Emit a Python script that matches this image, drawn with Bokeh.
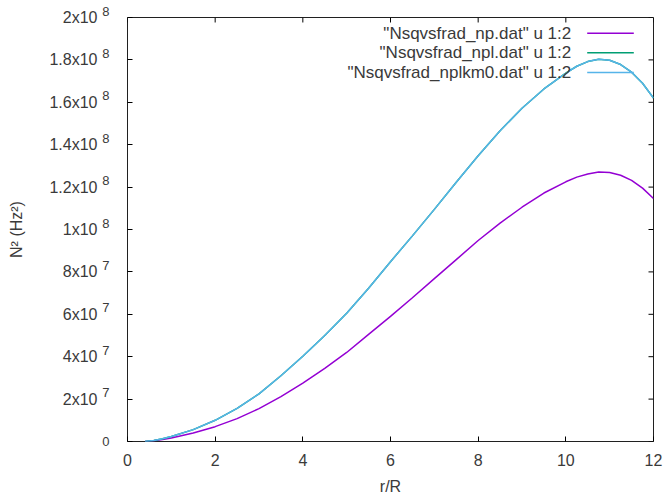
import numpy as np
from bokeh.plotting import figure
from bokeh.models import Label, FixedTicker, LinearAxis, Range1d
from bokeh.embed import file_html
from bokeh.resources import INLINE

# radius in units of R
r = [0.4, 0.6, 0.8, 1.0, 1.5, 2.0, 2.5, 3.0, 3.5, 4.0, 4.5, 5.0, 5.5, 6.0, 6.5,
     7.0, 7.5, 8.0, 8.5, 9.0, 9.5, 10.0, 10.25, 10.5, 10.75, 11.0, 11.25, 11.5,
     11.75, 12.0]

# N^2 in units of 1e6 Hz^2
n2_np = [0.0, 0.35, 0.9, 1.7, 4.0, 7.0, 10.8, 15.5, 21.2, 27.5, 34.5, 42.0, 50.5,
         59.0, 67.8, 76.8, 85.8, 94.8, 103.0, 110.5, 117.2, 122.5, 124.7, 126.2,
         127.1, 126.9, 125.6, 123.2, 119.5, 114.6]
n2_npl = [0.0, 0.5, 1.3, 2.4, 5.6, 10.0, 15.6, 22.5, 31.0, 40.2, 50.0, 60.5, 72.3,
          84.8, 97.0, 109.5, 122.3, 134.8, 146.6, 157.2, 166.3, 173.8, 177.0,
          179.2, 180.3, 179.8, 177.8, 174.2, 169.0, 162.0]
n2_nplkm0 = [0.0, 0.5, 1.3, 2.4, 5.6, 10.0, 15.6, 22.5, 31.0, 40.2, 50.0, 60.5, 72.3,
             84.8, 97.0, 109.5, 122.3, 134.8, 146.6, 157.2, 166.3, 173.8, 177.0,
             179.2, 180.3, 179.8, 177.8, 174.2, 169.0, 162.0]

series_names = ['"Nsqvsfrad_np.dat" u 1:2',
                '"Nsqvsfrad_npl.dat" u 1:2',
                '"Nsqvsfrad_nplkm0.dat" u 1:2']
series_colors = ["#9400d3", "#009e73", "#56b4e9"]

x_ticks = [0, 2, 4, 6, 8, 10, 12]
y_ticks = [0, 2e7, 4e7, 6e7, 8e7, 1e8, 1.2e8, 1.4e8, 1.6e8, 1.8e8, 2e8]
y_tick_mant = ["0", "2x10", "4x10", "6x10", "8x10", "1x10", "1.2x10", "1.4x10",
               "1.6x10", "1.8x10", "2x10"]
y_tick_exp = ["", "7", "7", "7", "7", "8", "8", "8", "8", "8", "8"]

# canvas and frame geometry (pixels)
W, H = 665, 497
FL, FR, FT, FB = 127, 653, 17, 442
X0, X1 = 0.0, 12.0
Y0, Y1 = 0.0, 2e8
TICK = 5

FONT = "Liberation Sans"
FS = "16px"
TXT = "#3a3a3a"


def dx(px):
    return X0 + (px - FL) / (FR - FL) * (X1 - X0)


def dy(py):
    return Y0 + (FB - py) / (FB - FT) * (Y1 - Y0)


p = figure(width=W, height=H,
           x_range=Range1d(X0, X1), y_range=Range1d(Y0, Y1),
           output_backend="svg", toolbar_location=None,
           min_border_left=FL, min_border_right=W - FR,
           min_border_top=FT, min_border_bottom=H - FB)

p.grid.visible = False
p.outline_line_color = "#202020"
p.outline_line_width = 1
p.background_fill_color = "white"
p.border_fill_color = "white"


def style(ax, size):
    ax.axis_line_color = None
    ax.major_tick_in = TICK
    ax.major_tick_out = 0
    ax.major_tick_line_color = "black"
    ax.minor_tick_line_color = None
    ax.major_label_text_font = FONT
    ax.major_label_text_font_size = size
    ax.major_label_text_color = TXT
    ax.axis_label_text_font = FONT
    ax.axis_label_text_font_size = FS
    ax.axis_label_text_font_style = "normal"
    ax.axis_label_text_color = TXT


# bottom axis: plain numbers and r/R
xa = p.below[0]
style(xa, FS)
xa.ticker = FixedTicker(ticks=x_ticks)
xa.major_label_standoff = 12
xa.axis_label = "r/R"
xa.axis_label_standoff = 9

# inner left axis: ticks plus raised exponents (the zero sits on its own line)
ya = p.left[0]
style(ya, "13px")
ya.ticker = FixedTicker(ticks=y_ticks)
ya.major_label_standoff = 18
ya.major_label_text_line_height = 0.85
ya.major_label_overrides = {v: (e + "\n" if e else "\n" + m + "\n")
                            for v, m, e in zip(y_ticks, y_tick_mant, y_tick_exp)}

# outer left axis: mantissas and the axis title
ym = LinearAxis(ticker=FixedTicker(ticks=y_ticks))
style(ym, FS)
ym.major_tick_line_color = None
ym.major_label_standoff = 2
ym.major_label_overrides = {v: (m if e else "")
                            for v, m, e in zip(y_ticks, y_tick_mant, y_tick_exp)}
ym.axis_label = "N\u00b2 (Hz\u00b2)"
ym.axis_label_standoff = 21
p.add_layout(ym, "left")

# mirrored inward ticks on the top and right edges
tx = TICK / (FR - FL) * (X1 - X0)
ty = TICK / (FB - FT) * (Y1 - Y0)
p.segment(x0=x_ticks, y0=[Y1] * len(x_ticks), x1=x_ticks, y1=[Y1 - ty] * len(x_ticks),
          line_color="black", line_width=1)
p.segment(x0=[X1] * len(y_ticks), y0=y_ticks, x1=[X1 - tx] * len(y_ticks), y1=y_ticks,
          line_color="black", line_width=1)

# curves
for vals, col in zip([n2_np, n2_npl, n2_nplkm0], series_colors):
    p.line(r, np.array(vals) * 1e6, line_color=col, line_width=1.5)

# key: text on the left, line sample on the right
row_px = [32.7, 52.4, 72.1]
for name, col, py in zip(series_names, series_colors, row_px):
    p.add_layout(Label(x=dx(570.7), y=dy(py), text=name, text_font=FONT,
                       text_font_size="17px", text_color=TXT,
                       text_align="right", text_baseline="middle"))
    p.line([dx(586.7), dx(633.3)], [dy(py), dy(py)], line_color=col, line_width=1.5)

open("out.html", "w").write(file_html(p, INLINE))
